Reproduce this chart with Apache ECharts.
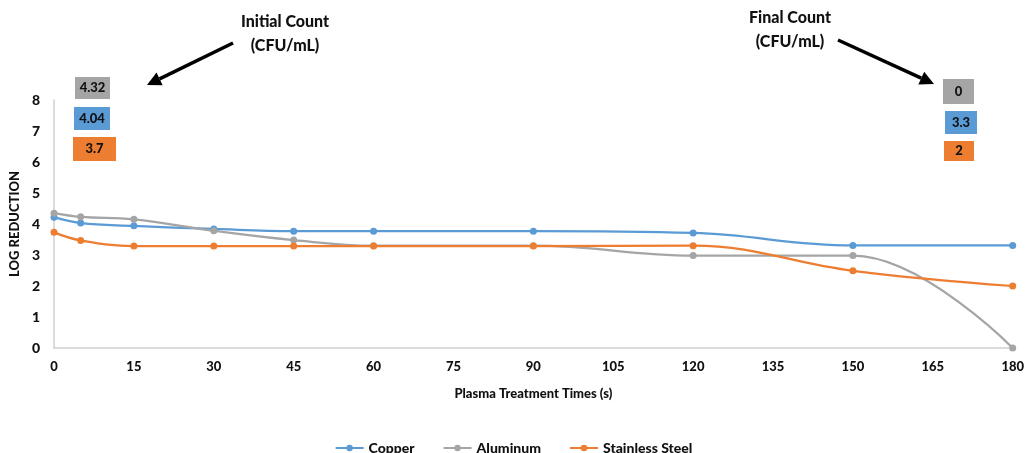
<!DOCTYPE html>
<html><head><meta charset="utf-8">
<script src="https://cdn.jsdelivr.net/npm/echarts@6/dist/echarts.min.js"></script>
<style>html,body{margin:0;padding:0;background:#fff}#c{width:1027px;height:453px}</style>
</head><body><div id="c"></div>
<script>
var times = [0, 5, 15, 30, 45, 60, 90, 120, 150, 180];
var copper = [4.22, 4.03, 3.94, 3.84, 3.77, 3.77, 3.77, 3.71, 3.31, 3.31];
var aluminum = [4.35, 4.23, 4.15, 3.78, 3.48, 3.3, 3.3, 2.98, 2.98, 0];
var stainless = [3.73, 3.47, 3.29, 3.29, 3.29, 3.29, 3.29, 3.3, 2.49, 2.0];
var xTicks = [0, 15, 30, 45, 60, 75, 90, 105, 120, 135, 150, 165, 180];
var yTicks = [0, 1, 2, 3, 4, 5, 6, 7, 8];
var initialCounts = ['4.32', '4.04', '3.7'];
var finalCounts = ['0', '3.3', '2'];
var names = ['Copper', 'Aluminum', 'Stainless Steel'];
var colors = ['#5B9BD5', '#A5A5A5', '#ED7D31'];
var F = 'Lato, "Open Sans", sans-serif';

function pairs(arr){ return times.map(function(t,i){ return [t, arr[i]]; }); }
function mkSeries(name, arr, color){
  return {name:name, type:'line', smooth:0.4, data:pairs(arr), symbol:'circle', symbolSize:7,
    lineStyle:{width:2.25, color:color}, itemStyle:{color:color}};
}
function box(x,y,w,h,fill,txt){
  return {type:'group', children:[
    {type:'rect', shape:{x:x,y:y,width:w,height:h}, style:{fill:fill}},
    {type:'text', style:{x:x+w/2, y:y+h/2, text:txt, align:'center', verticalAlign:'middle', font:'900 13px '+F, fill:'#111'}}
  ]};
}
function arrow(x1,y1,x2,y2){
  var a=Math.atan2(y2-y1,x2-x1), L=14, W=7;
  var bx=x2-L*Math.cos(a), by=y2-L*Math.sin(a);
  return {type:'group', children:[
    {type:'line', shape:{x1:x1,y1:y1,x2:bx,y2:by}, style:{stroke:'#000', lineWidth:3.5}},
    {type:'polygon', shape:{points:[[x2,y2],[bx+W*Math.sin(a),by-W*Math.cos(a)],[bx-W*Math.sin(a),by+W*Math.cos(a)]]}, style:{fill:'#000'}}
  ]};
}
var chart = echarts.init(document.getElementById('c'));
chart.setOption({
  animation:false,
  textStyle:{fontFamily:F},
  grid:{left:54, right:14, top:100, bottom:105},
  xAxis:{type:'value', min:0, max:180, interval:15,
    name:'Plasma Treatment Times (s)', nameLocation:'middle', nameGap:39,
    nameTextStyle:{fontWeight:900, fontSize:13, color:'#111', fontFamily:F},
    axisLine:{lineStyle:{color:'#D0D0D0', width:1.5}}, axisTick:{show:false}, splitLine:{show:false},
    axisLabel:{fontWeight:900, fontSize:13, color:'#111', margin:12, fontFamily:F,
      formatter:function(v){ return xTicks.indexOf(v)>=0 ? String(v) : ''; }}},
  yAxis:{type:'value', min:0, max:8, interval:1,
    name:'LOG REDUCTION', nameLocation:'middle', nameGap:33, nameRotate:90,
    nameTextStyle:{fontWeight:900, fontSize:13, color:'#111', fontFamily:F},
    axisLine:{show:true, lineStyle:{color:'#D0D0D0', width:1.5}}, axisTick:{show:false}, splitLine:{show:false},
    axisLabel:{fontWeight:900, fontSize:14, color:'#111', margin:14, fontFamily:F,
      formatter:function(v){ return yTicks.indexOf(v)>=0 ? String(v) : ''; }}},
  legend:{top:436, left:'center', itemGap:28, itemWidth:28, itemHeight:8,
    textStyle:{fontWeight:900, fontSize:14, color:'#111', fontFamily:F}, data:names},
  series:[mkSeries(names[0], copper, colors[0]), mkSeries(names[1], aluminum, colors[1]), mkSeries(names[2], stainless, colors[2])],
  graphic:[
    {type:'text', style:{x:285, y:22, text:'Initial Count', align:'center', verticalAlign:'middle', font:'900 16px '+F, fill:'#111'}},
    {type:'text', style:{x:285, y:46, text:'(CFU/mL)', align:'center', verticalAlign:'middle', font:'900 16px '+F, fill:'#111'}},
    {type:'text', style:{x:790, y:18, text:'Final Count', align:'center', verticalAlign:'middle', font:'900 16px '+F, fill:'#111'}},
    {type:'text', style:{x:790, y:42, text:'(CFU/mL)', align:'center', verticalAlign:'middle', font:'900 16px '+F, fill:'#111'}},
    arrow(233,43,147,85),
    arrow(838,40,934,84),
    box(75,77,35,22,colors[1],initialCounts[0]),
    box(74,107,36,23,colors[0],initialCounts[1]),
    box(73,137,43,24,colors[2],initialCounts[2]),
    box(943,79,31,25,colors[1],finalCounts[0]),
    box(945,111,32,23,colors[0],finalCounts[1]),
    box(944,141,30,20,colors[2],finalCounts[2])
  ]
});
</script></body></html>
